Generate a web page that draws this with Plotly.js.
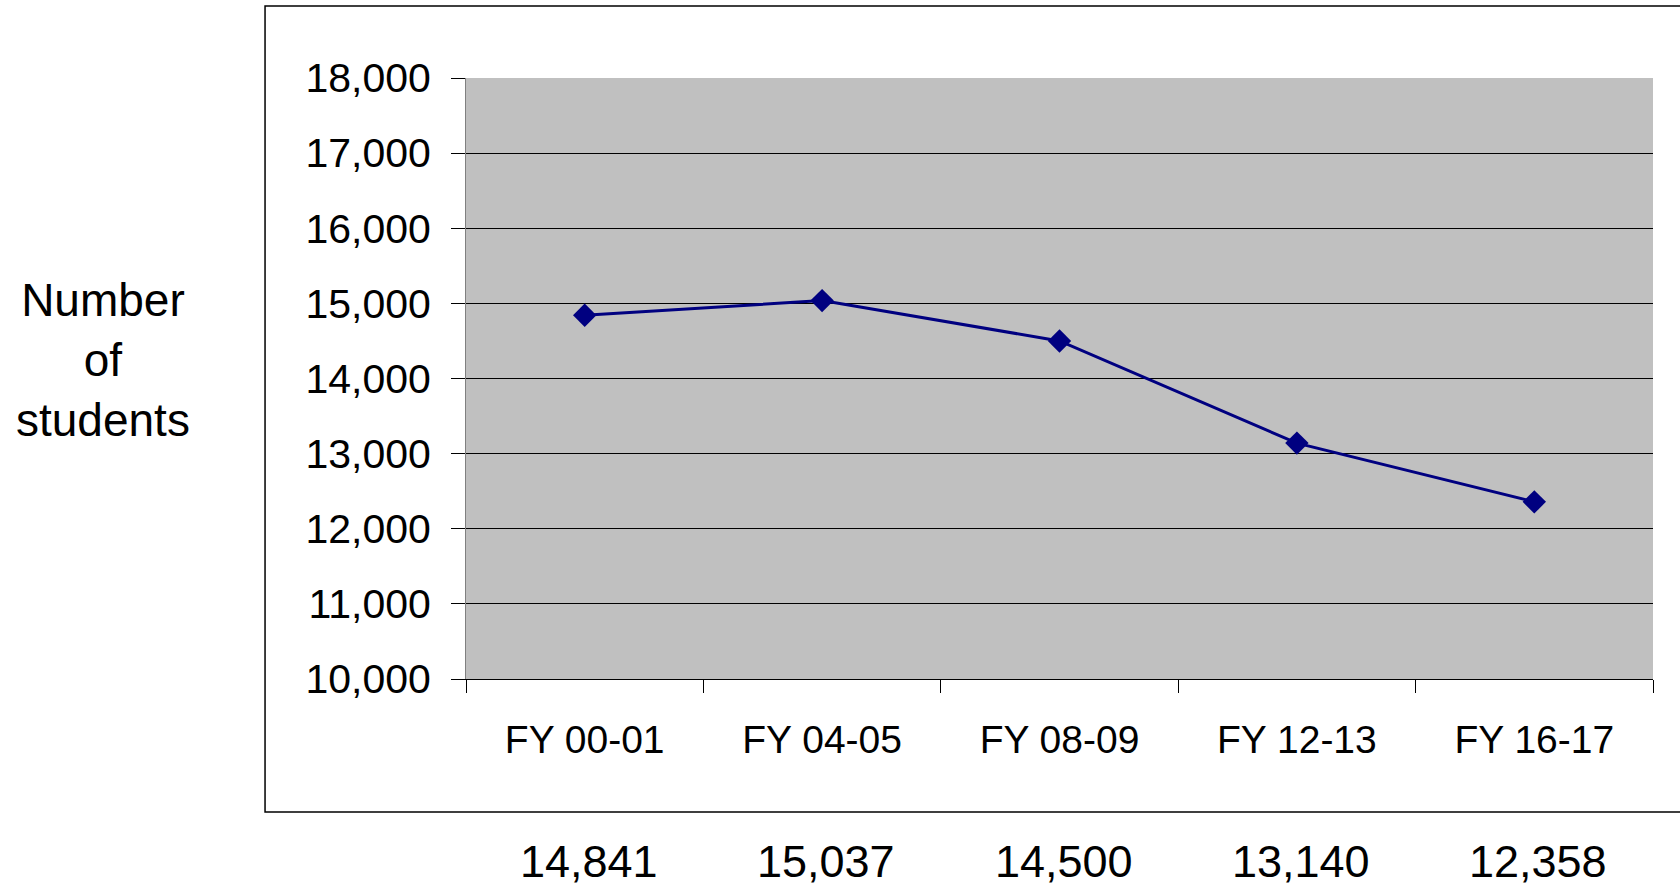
<!DOCTYPE html>
<html>
<head>
<meta charset="utf-8">
<script src="https://cdn.plot.ly/plotly-3.0.1.min.js"></script>
<style>html,body{margin:0;padding:0;background:#fff;}#chart{width:1680px;height:886px;}</style>
</head>
<body>
<div id="chart"></div>
<script>
const categories = ["FY 00-01", "FY 04-05", "FY 08-09", "FY 12-13", "FY 16-17"];
const students = [14841, 15037, 14500, 13140, 12358];
const valueLabels = ["14,841", "15,037", "14,500", "13,140", "12,358"];
const yTitle = "Number<br>of<br>students";

const FONT = "Liberation Sans, Arial, Helvetica, sans-serif";

const trace = {
  type: "scatter",
  mode: "lines+markers",
  x: categories,
  y: students,
  line: {color: "#000080", width: 3},
  marker: {symbol: "diamond", size: 18, color: "#000080"},
  hoverinfo: "x+y"
};

const annotations = valueLabels.map((t, i) => ({
  text: t, x: categories[i], xref: "x", y: -0.303, yref: "paper",
  showarrow: false, xanchor: "center", yanchor: "middle", xshift: 4,
  font: {family: FONT, size: 45, color: "#000"}
}));
annotations.push({
  text: yTitle, x: -0.3058, xref: "paper", y: 0.531, yref: "paper",
  showarrow: false, xanchor: "center", yanchor: "middle", align: "center",
  font: {family: FONT, size: 46, color: "#000"}
});

const layout = {
  width: 1680, height: 886,
  margin: {l: 466, r: 27, t: 78, b: 207, pad: 0},
  paper_bgcolor: "#ffffff",
  plot_bgcolor: "#c0c0c0",
  showlegend: false,
  font: {family: FONT, color: "#000"},
  xaxis: {
    type: "category",
    range: [-0.5, 4.5],
    tickson: "boundaries",
    ticks: "outside", ticklen: 13, tickcolor: "#000", tickwidth: 1,
    showgrid: false, zeroline: false,
    showline: true, linecolor: "#000", linewidth: 1,
    tickfont: {family: FONT, size: 39, color: "#000"},
    ticklabelstandoff: 26,
    fixedrange: true
  },
  yaxis: {
    range: [10000, 18000],
    tick0: 10000, dtick: 1000,
    tickformat: ",d",
    ticks: "outside", ticklen: 14, tickcolor: "#000", tickwidth: 1,
    showgrid: true, gridcolor: "#000", gridwidth: 1,
    zeroline: false,
    showline: true, linecolor: "#808080", linewidth: 1,
    tickfont: {family: FONT, size: 41, color: "#000"},
    ticklabelstandoff: 12,
    fixedrange: true
  },
  shapes: [{
    type: "rect", xref: "paper", yref: "paper",
    x0: -0.1693, x1: 1.03, y0: -0.2213, y1: 1.1198,
    line: {color: "#000", width: 1.5}, fillcolor: "rgba(0,0,0,0)", layer: "below"
  }],
  annotations: annotations
};

Plotly.newPlot("chart", [trace], layout, {displayModeBar: false, staticPlot: true});
</script>
</body>
</html>
